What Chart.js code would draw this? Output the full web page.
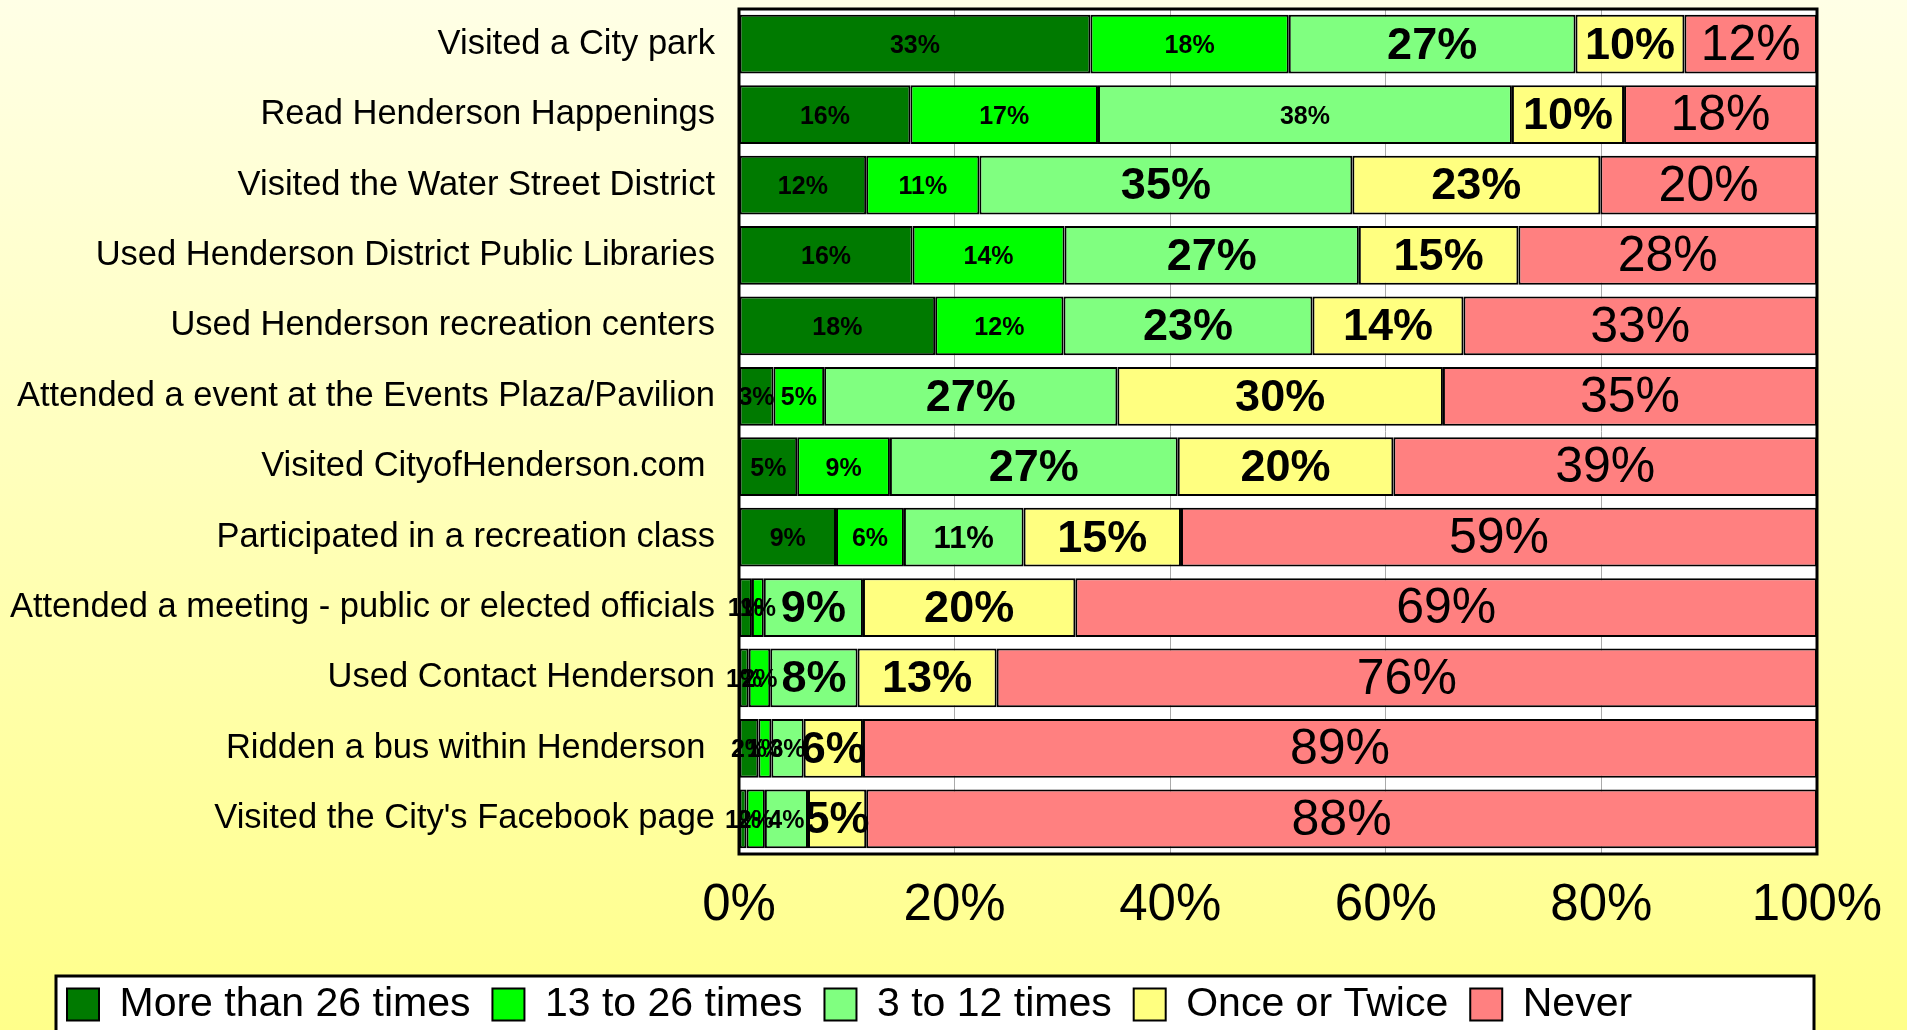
<!DOCTYPE html>
<html>
<head>
<meta charset="utf-8">
<script src="https://cdn.jsdelivr.net/npm/chart.js@4.4.1/dist/chart.umd.min.js"></script>
<style>
  html, body { margin: 0; padding: 0; overflow: hidden; }
  body { background: linear-gradient(to bottom, #FFFFE6 0%, #FFFFB8 50%, #FFFF8A 100%); width: 1907px; height: 1030px; }
  #wrap { position: relative; width: 1907px; height: 1035px; }
</style>
</head>
<body>
<div id="wrap"><canvas id="chart"></canvas></div>
<script>
var categories = [
  "Visited a City park",
  "Read Henderson Happenings",
  "Visited the Water Street District",
  "Used Henderson District Public Libraries",
  "Used Henderson recreation centers",
  "Attended a event at the Events Plaza/Pavilion",
  "Visited CityofHenderson.com ",
  "Participated in a recreation class",
  "Attended a meeting - public or elected officials",
  "Used Contact Henderson",
  "Ridden a bus within Henderson ",
  "Visited the City's Facebook page"
];
var seriesNames = ["More than 26 times", "13 to 26 times", "3 to 12 times", "Once or Twice", "Never"];

// percent of respondents
var moreThan26 = [32.6, 15.9, 11.8, 16.1, 18.2, 3.2, 5.4, 9.0, 1.2, 0.9, 1.8, 0.7];
var from13to26 = [18.4, 17.4, 10.5, 14.1, 11.9, 4.7, 8.6, 6.3, 1.1, 2.0, 1.2, 1.7];
var from3to12 = [26.6, 38.4, 34.6, 27.3, 23.1, 27.2, 26.7, 11.1, 9.2, 8.1, 3.0, 4.0];
var onceOrTwice = [10.1, 10.4, 23.0, 14.8, 14.0, 30.2, 20.0, 14.6, 19.7, 12.9, 5.5, 5.4];
var never = [12.3, 17.9, 20.1, 27.7, 32.8, 34.7, 39.3, 59.0, 68.8, 76.1, 88.5, 88.2];

var xTicks = [0, 20, 40, 60, 80, 100];

var colors = ["#007a00", "#00ff00", "#80ff80", "#ffff80", "#ff8080"];

// label look per series, with a few single labels that are drawn smaller
var labelFonts = {
  S: "bold 25px Arial, 'Liberation Sans', sans-serif",
  M: "bold 31px Arial, 'Liberation Sans', sans-serif",
  L: "bold 45px Arial, 'Liberation Sans', sans-serif",
  N: "50px Arial, 'Liberation Sans', sans-serif"
};
var seriesLabelStyle = ["S", "S", "L", "L", "N"];
var labelOverrides = { "2-1": "S", "2-7": "M", "2-10": "S", "2-11": "S" };

var allSeries = [moreThan26, from13to26, from3to12, onceOrTwice, never];

var datasets = allSeries.map(function (vals, i) {
  return {
    label: seriesNames[i],
    data: vals,
    backgroundColor: colors[i],
    borderColor: "#000",
    borderWidth: 2,
    borderSkipped: false,
    barPercentage: 0.835,
    categoryPercentage: 1
  };
});

Chart.defaults.font.family = "Arial, 'Liberation Sans', sans-serif";
Chart.defaults.color = "#000";

const plotFrame = {
  id: 'plotFrame',
  afterLayout(chart) {
    // legend items start inside the framed box, not at the canvas edge
    chart.legend.left += 45;
  },
  beforeDraw(chart) {
    const ctx = chart.ctx;
    const a = chart.chartArea;
    ctx.save();
    ctx.fillStyle = "#fff";
    ctx.fillRect(a.left, a.top, a.right - a.left, a.bottom - a.top);
    // legend box
    const lg = chart.legend;
    const top = lg.top + 14;
    ctx.fillStyle = "#fff";
    ctx.fillRect(56, top, 1814 - 56, 200);
    ctx.strokeStyle = "#000";
    ctx.lineWidth = 3;
    ctx.strokeRect(56, top, 1814 - 56, 200);
    ctx.restore();
  },
  afterDatasetsDraw(chart) {
    const ctx = chart.ctx;
    const a = chart.chartArea;
    ctx.save();
    ctx.strokeStyle = "#000";
    ctx.lineWidth = 3;
    ctx.strokeRect(a.left, a.top, a.right - a.left, a.bottom - a.top);
    ctx.restore();
  }
};

const barLabels = {
  id: 'barLabels',
  afterDatasetsDraw(chart) {
    const ctx = chart.ctx;
    ctx.save();
    ctx.textAlign = "center";
    ctx.textBaseline = "middle";
    ctx.fillStyle = "#000";
    chart.data.datasets.forEach(function (ds, di) {
      chart.getDatasetMeta(di).data.forEach(function (bar, i) {
        var key = labelOverrides[di + "-" + i] || seriesLabelStyle[di];
        ctx.font = labelFonts[key];
        ctx.fillText(Math.round(ds.data[i]) + "%", (bar.x + bar.base) / 2, bar.y + 2);
      });
    });
    ctx.restore();
  }
};

new Chart(document.getElementById("chart"), {
  type: 'bar',
  data: { labels: categories, datasets: datasets },
  plugins: [plotFrame, barLabels],
  options: {
    indexAxis: 'y',
    responsive: true,
    maintainAspectRatio: false,
    animation: false,
    layout: { padding: { left: 0, right: 90, top: 9, bottom: 0 } },
    scales: {
      x: {
        stacked: true,
        min: 0,
        max: 100,
        afterBuildTicks: function (scale) {
          scale.ticks = xTicks.map(function (v) { return { value: v }; });
        },
        afterFit: function (scale) { scale.height = 108; },
        grid: { color: "#aaa", lineWidth: 1, drawTicks: false },
        border: { display: false },
        ticks: {
          padding: 21,
          font: { size: 51 },
          callback: function (v) { return v + "%"; }
        }
      },
      y: {
        stacked: true,
        afterFit: function (scale) {
          scale.width = 739;
          scale.paddingTop = 0;
          scale.paddingBottom = 0;
        },
        grid: { display: false, drawTicks: false },
        border: { display: false },
        ticks: { padding: 24, font: { size: 34.5 } }
      }
    },
    plugins: {
      tooltip: { enabled: false },
      legend: {
        position: 'bottom',
        align: 'start',
        labels: {
          boxWidth: 32,
          boxHeight: 32,
          padding: 22,
          font: { size: 41 },
          color: "#000"
        }
      }
    }
  }
});
</script>
</body>
</html>
